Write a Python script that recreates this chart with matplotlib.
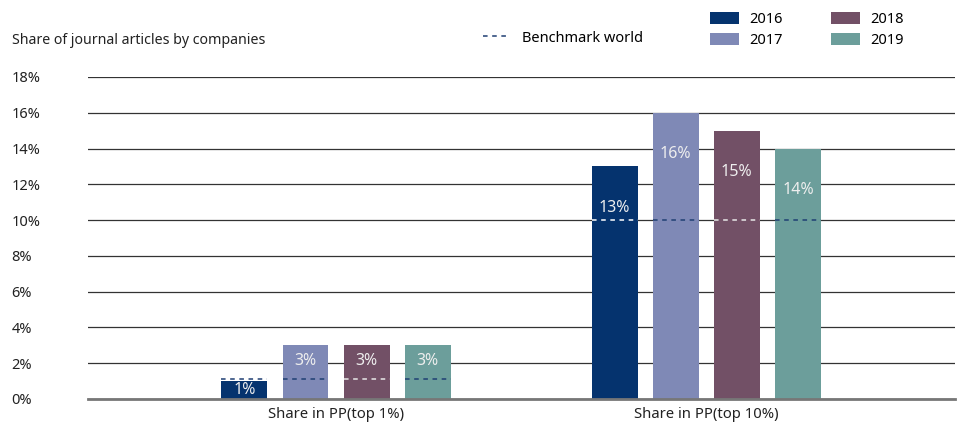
import matplotlib
matplotlib.use("Agg")
import matplotlib.pyplot as plt
from matplotlib.patches import Patch
from matplotlib.lines import Line2D
import numpy as np

plt.rcParams['font.family'] = ['Noto Sans', 'DejaVu Sans']

categories = ['Share in PP(top 1%)', 'Share in PP(top 10%)']
years = ['2016', '2017', '2018', '2019']
values = {
    '2016': [1, 13],
    '2017': [3, 16],
    '2018': [3, 15],
    '2019': [3, 14],
}
benchmark = [1.1, 10]
colors = {'2016': '#05336e', '2017': '#7f89b6', '2018': '#725066', '2019': '#6c9e9b'}
# dash colour over each bar (white over the dark ones)
bench_colors = {'2016': 'white', '2017': '#1f3f73', '2018': '#e8e8e8', '2019': '#1f3f73'}

fig = plt.figure(figsize=(9.62, 4.26), dpi=100)
ax = fig.add_axes([88/962, 1-399/426, 867/962, 322/426])

x = np.arange(len(categories))
width = 0.124
step = 0.165
offsets = (np.arange(len(years)) - 1.5) * step

for i, yr in enumerate(years):
    xs = x + offsets[i]
    ax.bar(xs, values[yr], width=width, color=colors[yr], zorder=2)
    for j, v in enumerate(values[yr]):
        # benchmark dashes only across each bar; blue if they sit above the bar
        c = bench_colors[yr] if v >= benchmark[j] else '#1f3f73'
        ax.plot([xs[j] - width/2, xs[j] + width/2], [benchmark[j]] * 2,
                ls=(0, (3, 3)), lw=1.1, color=c, zorder=3)
        ty = v - 2.3 if v > 5 else max(v - 0.9, v / 2)
        ax.text(xs[j], ty, f'{v}%', ha='center', va='center',
                color='#eeeeee', fontsize=11.5, zorder=4)

ax.set_xlim(-0.67, 1.672)
ax.set_ylim(0, 18)
ax.set_yticks(np.arange(0, 19, 2))
ax.set_yticklabels([f'{t}%' for t in range(0, 19, 2)])
for lab in ax.get_yticklabels():
    lab.set_horizontalalignment('left')
ax.tick_params(axis='y', length=0, pad=55, labelsize=10.5, labelcolor='#222222')
ax.set_xticks(x)
ax.set_xticklabels(categories)
ax.tick_params(axis='x', length=0, pad=6, labelsize=10.7, labelcolor='#222222')

ax.yaxis.grid(True, color='#333333', lw=0.9, zorder=0)
ax.set_axisbelow(True)
for s in ['top', 'right', 'left']:
    ax.spines[s].set_visible(False)
ax.spines['bottom'].set_color('#777777')
ax.spines['bottom'].set_linewidth(2)
ax.spines['bottom'].set_zorder(5)

fig.text(12/962, 1-40/426, 'Share of journal articles by companies',
         fontsize=10.2, color='#222222', va='center', ha='left')

year_handles = [Patch(facecolor=colors[yr], label=yr) for yr in years]
fig.legend(handles=year_handles, ncol=2, loc='upper left',
           bbox_to_anchor=(697/962, 1 + 1/426), frameon=False,
           fontsize=10.5, handlelength=2.0, handleheight=0.9,
           columnspacing=3.3, labelspacing=0.4, handletextpad=0.7)
bench_handle = [Line2D([0], [0], color='#1f3f73', ls=(0, (3, 3)), lw=1.1,
                       label='Benchmark world')]
fig.legend(handles=bench_handle, loc='center left',
           bbox_to_anchor=(470/962, 1 - 38/426), frameon=False,
           fontsize=10.5, handlelength=1.6, handletextpad=1.1)

fig.savefig('out.png', dpi=100)
